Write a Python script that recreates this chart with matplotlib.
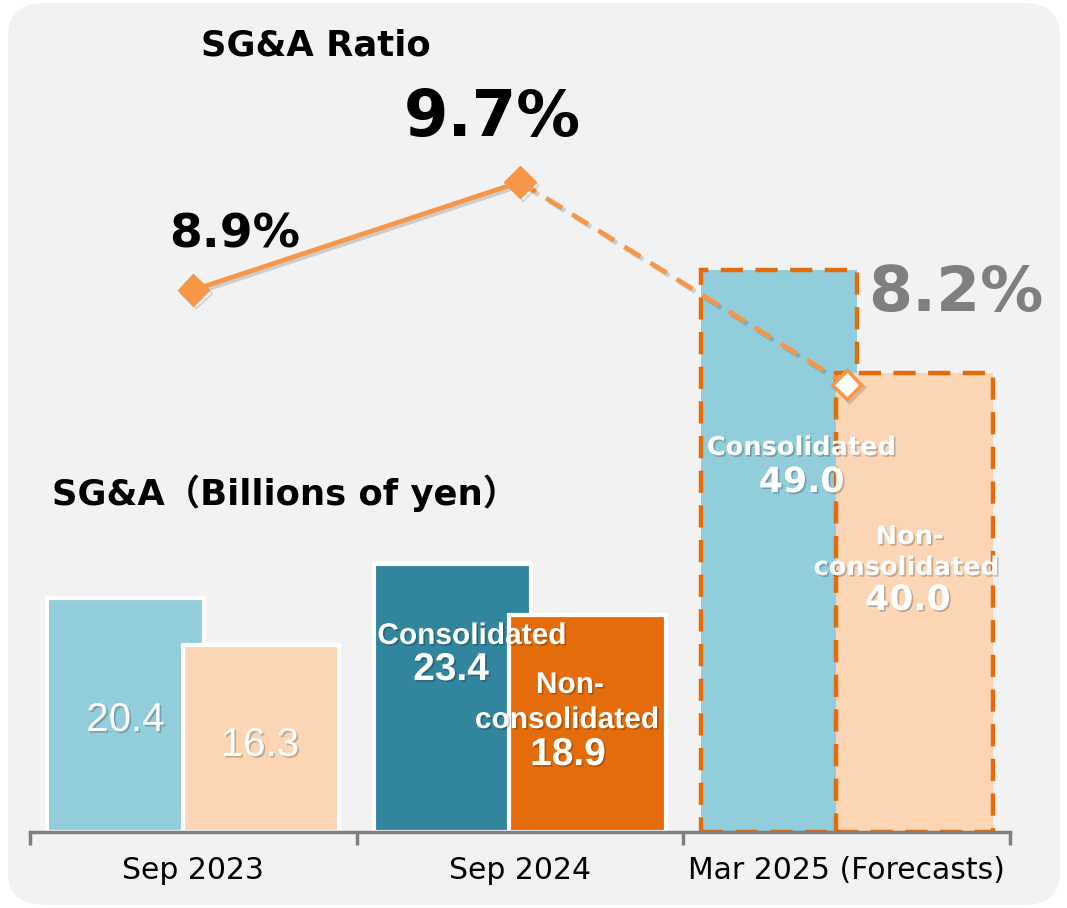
import numpy as np
import matplotlib
matplotlib.use("Agg")
import matplotlib.pyplot as plt
import matplotlib.patheffects as pe
from matplotlib.patches import FancyBboxPatch

# datos
periodos = ["Sep 2023", "Sep 2024", "Mar 2025 (Forecasts)"]
consolidado = [20.4, 23.4, 49.0]
no_consolidado = [16.3, 18.9, 40.0]
ratio_sga = [8.9, 9.7, 8.2]

# colores
col_cons = ["#92cddc", "#31859c", "#92cddc"]
col_nocons = ["#fcd5b5", "#e46c0a", "#fcd5b5"]
naranja = "#f79646"
naranja_borde = "#e46c0a"
gris = "#7f7f7f"

x = np.arange(len(periodos))
ancho = 0.48
desp = 0.207

fig = plt.figure(figsize=(10.67, 9.08), dpi=100)
fig.patch.set_facecolor("white")
fondo = FancyBboxPatch((8 / 1067, 3 / 908), 1052 / 1067, 902 / 908,
                       boxstyle="round,pad=0,rounding_size=0.035",
                       transform=fig.transFigure, facecolor="#f2f2f2",
                       edgecolor="none", zorder=-5)
fig.patches.append(fondo)

ax = fig.add_axes([30 / 1067, 76 / 908, 980 / 1067, 792 / 908])
ax.set_facecolor("none")
ax.set_xlim(-0.5, 2.5)
ax.set_ylim(0, 792 / 11.47)

sombra = [pe.withSimplePatchShadow(offset=(1.2, -1.2), shadow_rgbFace="k", alpha=0.22)]

# barras
for i in range(len(x)):
    if i < 2:
        ax.bar(x[i] - desp, consolidado[i], ancho, color=col_cons[i],
               edgecolor="white", linewidth=3, zorder=2)
    else:
        ax.bar(x[i] - desp, consolidado[i], ancho, color=col_cons[i],
               edgecolor=naranja_borde, linewidth=3.2, linestyle=(0, (5, 2.8)), zorder=2)
for i in range(len(x)):
    if i < 2:
        ax.bar(x[i] + desp, no_consolidado[i], ancho, color=col_nocons[i],
               edgecolor="white", linewidth=3, zorder=3)
    else:
        ax.bar(x[i] + desp, no_consolidado[i], ancho, color=col_nocons[i],
               edgecolor=naranja_borde, linewidth=3.2, linestyle=(0, (5, 2.8)), zorder=3)

# etiquetas de las barras
def etiqueta(xx, yy, txt, size, weight="bold", family="DejaVu Sans"):
    ax.text(xx, yy, txt, ha="center", va="center", color="white", fontsize=size,
            fontweight=weight, family=family, path_effects=sombra, zorder=5)

etiqueta(-0.208, 9.76, f"{consolidado[0]:.1f}", 29, "normal", "Liberation Sans")
etiqueta(0.204, 7.59, f"{no_consolidado[0]:.1f}", 29, "normal", "Liberation Sans")

etiqueta(0.853, 17.09, "Consolidated", 21.5, family="Liberation Sans")
etiqueta(0.789, 14.12, f"{consolidado[1]:.1f}", 28, family="Liberation Sans")
etiqueta(1.153, 12.82, "Non-", 21.5, family="Liberation Sans")
etiqueta(1.144, 9.76, "consolidated", 21.5, family="Liberation Sans")
etiqueta(1.147, 6.71, f"{no_consolidado[1]:.1f}", 28, family="Liberation Sans")

etiqueta(1.862, 33.48, "Consolidated", 18.5)
etiqueta(1.862, 30.51, f"{consolidado[2]:.1f}", 25)
etiqueta(2.193, 25.72, "Non-", 18.5)
etiqueta(2.183, 23.02, "consolidated", 18.5)
etiqueta(2.187, 20.23, f"{no_consolidado[2]:.1f}", 25)

# ejes
for lado in ["top", "right", "left"]:
    ax.spines[lado].set_visible(False)
ax.spines["bottom"].set_color(gris)
ax.spines["bottom"].set_linewidth(2.5)
ax.spines["bottom"].set_zorder(4)
ax.set_yticks([])
ax.set_xticks([-0.5, 0.5, 1.5, 2.5])
ax.set_xticklabels([])
ax.tick_params(axis="x", which="major", length=9, width=2.5, color=gris)
ax.set_xticks(x, minor=True)
ax.set_xticklabels(periodos, minor=True, fontsize=21.5, family="DejaVu Sans")
ax.tick_params(axis="x", which="minor", length=0, pad=17)

# linea del ratio
ax2 = ax.twinx()
ax2.set_ylim(4.885, 10.752)
ax2.set_yticks([])
for lado in ["top", "right", "left", "bottom"]:
    ax2.spines[lado].set_visible(False)

sombra_linea = [pe.SimpleLineShadow(offset=(2, -2), alpha=0.15), pe.Normal()]
ax2.plot(x[:2], ratio_sga[:2], color=naranja, lw=3.4, solid_capstyle="round",
         path_effects=sombra_linea, zorder=3)
ax2.plot(x[1:], ratio_sga[1:], color=naranja, lw=3.4, linestyle=(0, (4, 2.5)),
         path_effects=sombra_linea, zorder=3)
ax2.plot(x[:2], ratio_sga[:2], linestyle="none", marker="D", markersize=16,
         color=naranja, path_effects=sombra_linea, zorder=4)
ax2.plot(x[2:], ratio_sga[2:], linestyle="none", marker="D", markersize=15,
         markerfacecolor="white", markeredgecolor=naranja, markeredgewidth=2.5,
         path_effects=sombra_linea, zorder=4)

desplaz = [(41, 55), (-28, 64), (109, 91)]
tamanos = [34, 46, 45.5]
colores_txt = ["black", "black", gris]
for i in range(len(x)):
    ax2.annotate(f"{ratio_sga[i]:.1f}%", (x[i], ratio_sga[i]), xytext=desplaz[i],
                 textcoords="offset pixels", ha="center", va="center",
                 fontsize=tamanos[i], fontweight="bold", color=colores_txt[i],
                 family="DejaVu Sans", zorder=6)

# titulos
fig.text(316 / 1067, 1 - 45 / 908, "SG&A Ratio", ha="center", va="center",
         fontsize=25.5, fontweight="bold", family="DejaVu Sans")
fig.text(52 / 1067, 1 - 493 / 908, "SG&A（Billions of yen）", ha="left", va="center",
         fontsize=25.5, fontweight="bold", family=["DejaVu Sans", "Noto Sans CJK JP"])

fig.savefig("out.png", dpi=100, facecolor=fig.get_facecolor())
